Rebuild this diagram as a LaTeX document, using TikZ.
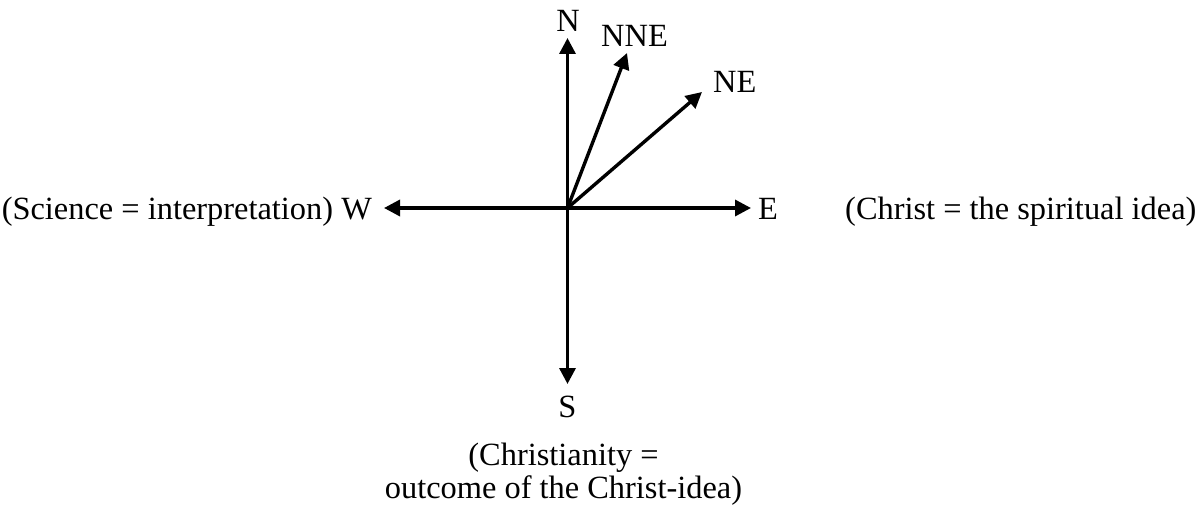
\documentclass[tikz,border=0pt]{standalone}
\usepackage{fontspec}
\setmainfont{Liberation Serif}
\usetikzlibrary{arrows.meta}
\begin{document}
\begin{tikzpicture}[x=1pt,y=-1pt,
  dirarrow/.style={line width=3.4pt,-{Triangle[length=16pt,width=16pt]}},
  lbl/.style={inner sep=0pt,font=\fontsize{32.4}{33}\selectfont}]
\useasboundingbox (0,0) rectangle (1201,510);
\coordinate (O) at (567.5,208);
\coordinate (n) at (567.5,38);
\coordinate (nne) at (627,53);
\coordinate (ne) at (702,92);
\coordinate (e) at (751,208);
\coordinate (w) at (384,208);
\coordinate (s) at (567.5,384);
\draw[dirarrow] (O) -- (n);
\draw[dirarrow] (O) -- (nne);
\draw[dirarrow] (O) -- (ne);
\draw[dirarrow] (O) -- (e);
\draw[dirarrow] (O) -- (w);
\draw[dirarrow] (O) -- (s);
\node[lbl,anchor=base] (ln) at (568,32) {N};
\node[lbl,anchor=base] (lnne) at (634.5,47) {NNE};
\node[lbl,anchor=base west] (lne) at (713,93) {NE};
\node[lbl,anchor=base west] (le) at (758,220) {E};
\node[lbl,anchor=base east] (lw) at (372,220) {(Science = interpretation) W};
\node[lbl,anchor=base west] (lchrist) at (845,220) {(Christ = the spiritual idea)};
\node[lbl,anchor=base] (ls) at (567.5,417) {S};
\node[lbl,anchor=base,align=center] (lchristianity) at (563.5,498) {(Christianity =\\outcome of the Christ-idea)};
\end{tikzpicture}
\end{document}
